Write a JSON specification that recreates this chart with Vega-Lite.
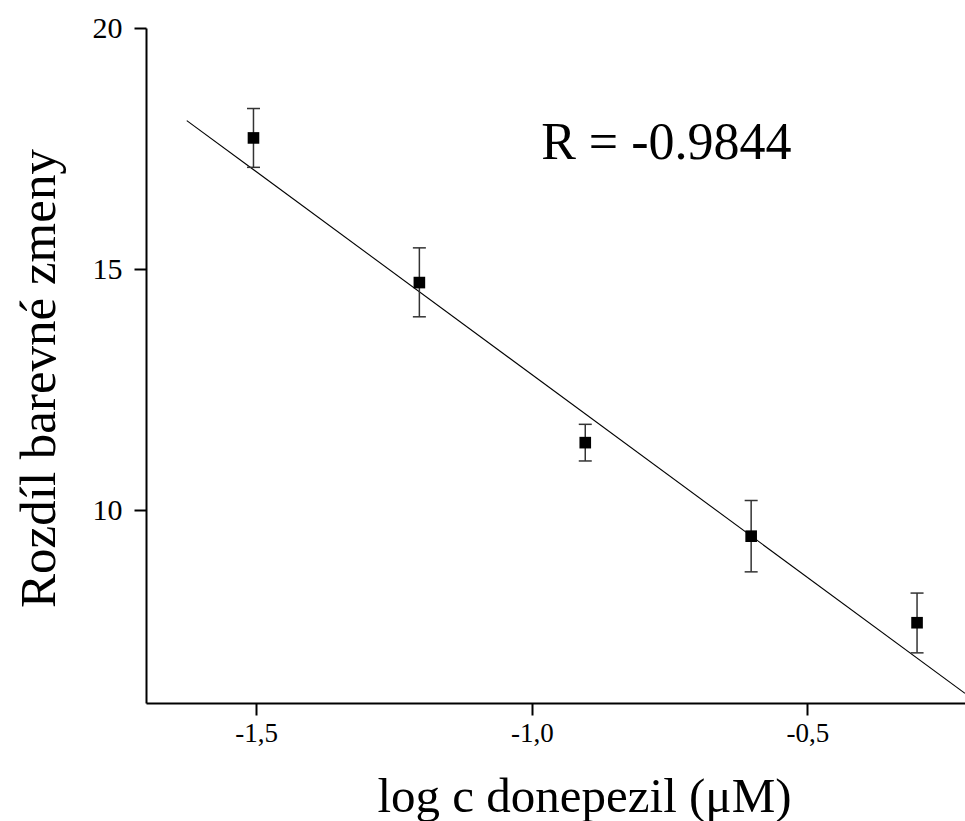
{
  "$schema": "https://vega.github.io/schema/vega-lite/v6.json",
  "width": 819,
  "height": 675,
  "autosize": {"type": "none"},
  "padding": {"left": 146, "top": 28, "right": 0, "bottom": 118},
  "background": "white",
  "config": {
    "view": {"stroke": null},
    "font": "Liberation Serif",
    "axis": {
      "grid": false,
      "domainColor": "black",
      "domainWidth": 2,
      "tickColor": "black",
      "tickWidth": 2,
      "tickSize": 12,
      "labelFont": "Liberation Serif",
      "labelColor": "black",
      "titleFont": "Liberation Serif",
      "titleFontWeight": "normal",
      "titleColor": "black"
    }
  },
  "datasets": {
    "points": [
      {"logc": -1.505, "diff": 17.72, "lo": 17.11, "hi": 18.33},
      {"logc": -1.204, "diff": 14.72, "lo": 14.01, "hi": 15.44},
      {"logc": -0.903, "diff": 11.40, "lo": 11.02, "hi": 11.78},
      {"logc": -0.602, "diff": 9.46, "lo": 8.72, "hi": 10.20},
      {"logc": -0.301, "diff": 7.665, "lo": 7.04, "hi": 8.28}
    ],
    "fit": [
      {"logc": -1.626, "diff": 18.08},
      {"logc": -0.214, "diff": 6.20}
    ],
    "label": [
      {"logc": -0.983, "diff": 17.28, "text": "R = -0.9844"}
    ]
  },
  "layer": [
    {
      "data": {"name": "fit"},
      "mark": {"type": "line", "color": "black", "strokeWidth": 1.1},
      "encoding": {
        "x": {
          "field": "logc", "type": "quantitative",
          "scale": {"domain": [-1.7, -0.214], "nice": false, "zero": false},
          "axis": {
            "values": [-1.5, -1.0, -0.5],
            "labelExpr": "replace(replace(format(datum.value, '.1f'), '.', ','), '\u2212', '-')",
            "labelFontSize": 27,
            "labelPadding": 5,
            "title": "log c donepezil (μM)",
            "titleFontSize": 49,
            "titleX": 438,
            "titleY": 108,
            "titleBaseline": "alphabetic",
            "titleAlign": "center"
          }
        },
        "y": {
          "field": "diff", "type": "quantitative",
          "scale": {"domain": [6, 20], "nice": false, "zero": false},
          "axis": {
            "values": [10, 15, 20],
            "format": "d",
            "labelFontSize": 30,
            "labelPadding": 12,
            "title": "Rozdíl barevné zmeny",
            "titleFontSize": 51,
            "titleX": -92,
            "titleY": 350,
            "titleAngle": -90,
            "titleBaseline": "alphabetic",
            "titleAlign": "center"
          }
        }
      }
    },
    {
      "data": {"name": "points"},
      "mark": {"type": "rule", "color": "#333333", "strokeWidth": 1.5},
      "encoding": {
        "x": {"field": "logc", "type": "quantitative"},
        "y": {"field": "lo", "type": "quantitative"},
        "y2": {"field": "hi"}
      }
    },
    {
      "data": {"name": "points"},
      "mark": {"type": "tick", "orient": "horizontal", "size": 13, "thickness": 1.5, "color": "#333333", "opacity": 1},
      "encoding": {
        "x": {"field": "logc", "type": "quantitative"},
        "y": {"field": "lo", "type": "quantitative"}
      }
    },
    {
      "data": {"name": "points"},
      "mark": {"type": "tick", "orient": "horizontal", "size": 13, "thickness": 1.5, "color": "#333333", "opacity": 1},
      "encoding": {
        "x": {"field": "logc", "type": "quantitative"},
        "y": {"field": "hi", "type": "quantitative"}
      }
    },
    {
      "data": {"name": "points"},
      "mark": {"type": "point", "shape": "square", "filled": true, "size": 135, "color": "black", "opacity": 1},
      "encoding": {
        "x": {"field": "logc", "type": "quantitative"},
        "y": {"field": "diff", "type": "quantitative"}
      }
    },
    {
      "data": {"name": "label"},
      "mark": {"type": "text", "align": "left", "baseline": "alphabetic", "fontSize": 52, "font": "Liberation Serif", "color": "black"},
      "encoding": {
        "x": {"field": "logc", "type": "quantitative"},
        "y": {"field": "diff", "type": "quantitative"},
        "text": {"field": "text"}
      }
    }
  ]
}
